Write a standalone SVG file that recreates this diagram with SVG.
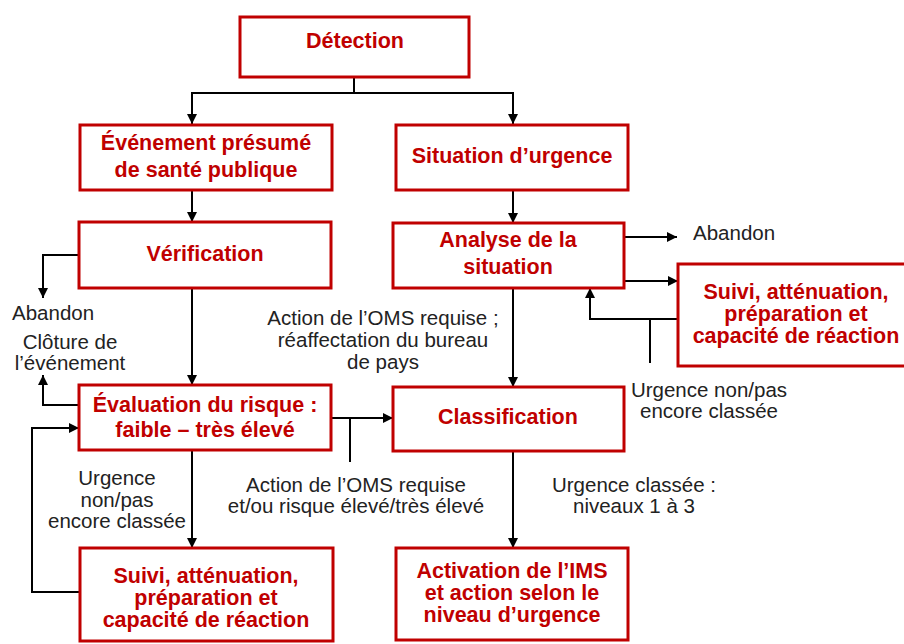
<svg xmlns="http://www.w3.org/2000/svg" width="904" height="644" viewBox="0 0 904 644">
<defs>
<marker id="ah" viewBox="0 0 10 10" refX="10" refY="5" markerWidth="10" markerHeight="10" markerUnits="userSpaceOnUse" orient="auto">
<path d="M0,0 L10,5 L0,10 Z" fill="#000"/>
</marker>
<style>
.box{fill:#fff;stroke:#C00000;stroke-width:3}
.bt{font-family:"Liberation Sans",Arial,sans-serif;font-weight:bold;font-size:21.5px;fill:#C00000;text-anchor:middle}
.lb{font-family:"Liberation Sans",Arial,sans-serif;font-size:20.5px;fill:#222;text-anchor:middle}
.ln{fill:none;stroke:#000;stroke-width:2}
.ar{fill:none;stroke:#000;stroke-width:2;marker-end:url(#ah)}
</style>
</defs>
<rect width="904" height="644" fill="#fff"/>

<g id="connectors">
<path class="ln" d="M354,77 V93 M192,93 H513"/>
<path class="ar" d="M192,92 V124"/>
<path class="ar" d="M513,92 V124"/>
<path class="ar" d="M192,190 V222"/>
<path class="ar" d="M513,190 V223"/>
<path class="ar" d="M192,288 V385"/>
<path class="ar" d="M79,255 H43 V298"/>
<path class="ar" d="M79,405 H43 V375"/>
<path class="ar" d="M331,418 H393"/>
<path class="ln" d="M350,418 V462"/>
<path class="ar" d="M513,288 V387"/>
<path class="ar" d="M624,237 H677"/>
<path class="ar" d="M624,281 H678"/>
<path class="ar" d="M678,319 H590 V288"/>
<path class="ln" d="M650,319 V363"/>
<path class="ar" d="M192,450 V548"/>
<path class="ar" d="M513,451 V548"/>
<path class="ar" d="M80,592 H32 V428 H79"/>
</g>

<g id="detection">
<rect class="box" x="240" y="17" width="229" height="60"/>
<text class="bt" x="355" y="48">Détection</text>
</g>
<g id="evenement">
<rect class="box" x="80" y="125" width="252" height="65"/>
<text class="bt" x="206" y="150">Événement présumé</text>
<text class="bt" x="206" y="177">de santé publique</text>
</g>
<g id="situation">
<rect class="box" x="396" y="125" width="232" height="65"/>
<text class="bt" x="512" y="163">Situation d’urgence</text>
</g>
<g id="verification">
<rect class="box" x="79" y="222" width="252" height="66"/>
<text class="bt" x="205" y="261">Vérification</text>
</g>
<g id="analyse">
<rect class="box" x="393" y="223" width="231" height="65"/>
<text class="bt" x="508" y="247">Analyse de la</text>
<text class="bt" x="508" y="274">situation</text>
</g>
<g id="suivi-droite">
<rect class="box" x="678" y="264" width="240" height="102"/>
<text class="bt" x="796" y="299">Suivi, atténuation,</text>
<text class="bt" x="796" y="321">préparation et</text>
<text class="bt" x="796" y="343">capacité de réaction</text>
</g>
<g id="evaluation">
<rect class="box" x="79" y="385" width="252" height="65"/>
<text class="bt" x="205" y="412">Évaluation  du risque :</text>
<text class="bt" x="205" y="437">faible – très élevé</text>
</g>
<g id="classification">
<rect class="box" x="393" y="387" width="231" height="64"/>
<text class="bt" x="508" y="424">Classification</text>
</g>
<g id="suivi-bas">
<rect class="box" x="80" y="548" width="253" height="93"/>
<text class="bt" x="206" y="583">Suivi, atténuation,</text>
<text class="bt" x="206" y="605">préparation et</text>
<text class="bt" x="206" y="627">capacité de réaction</text>
</g>
<g id="activation">
<rect class="box" x="396" y="548" width="232" height="92"/>
<text class="bt" x="512" y="578">Activation de l’IMS</text>
<text class="bt" x="512" y="600">et action selon le</text>
<text class="bt" x="512" y="622">niveau d’urgence</text>
</g>

<g id="labels">
<text class="lb" x="693" y="240" style="text-anchor:start">Abandon</text>
<text class="lb" x="12" y="320" style="text-anchor:start">Abandon</text>
<text class="lb" x="70" y="349">Clôture de</text>
<text class="lb" x="70" y="370">l’événement</text>
<text class="lb" x="383" y="325">Action de l’OMS requise ;</text>
<text class="lb" x="383" y="347">réaffectation du bureau</text>
<text class="lb" x="383" y="369">de pays</text>
<text class="lb" x="709" y="397">Urgence non/pas</text>
<text class="lb" x="709" y="418">encore classée</text>
<text class="lb" x="117" y="485">Urgence</text>
<text class="lb" x="117" y="507">non/pas</text>
<text class="lb" x="117" y="528">encore classée</text>
<text class="lb" x="356" y="492">Action de l’OMS requise</text>
<text class="lb" x="356" y="513">et/ou risque élevé/très élevé</text>
<text class="lb" x="634" y="492">Urgence classée :</text>
<text class="lb" x="634" y="513">niveaux 1 à 3</text>
</g>
</svg>
